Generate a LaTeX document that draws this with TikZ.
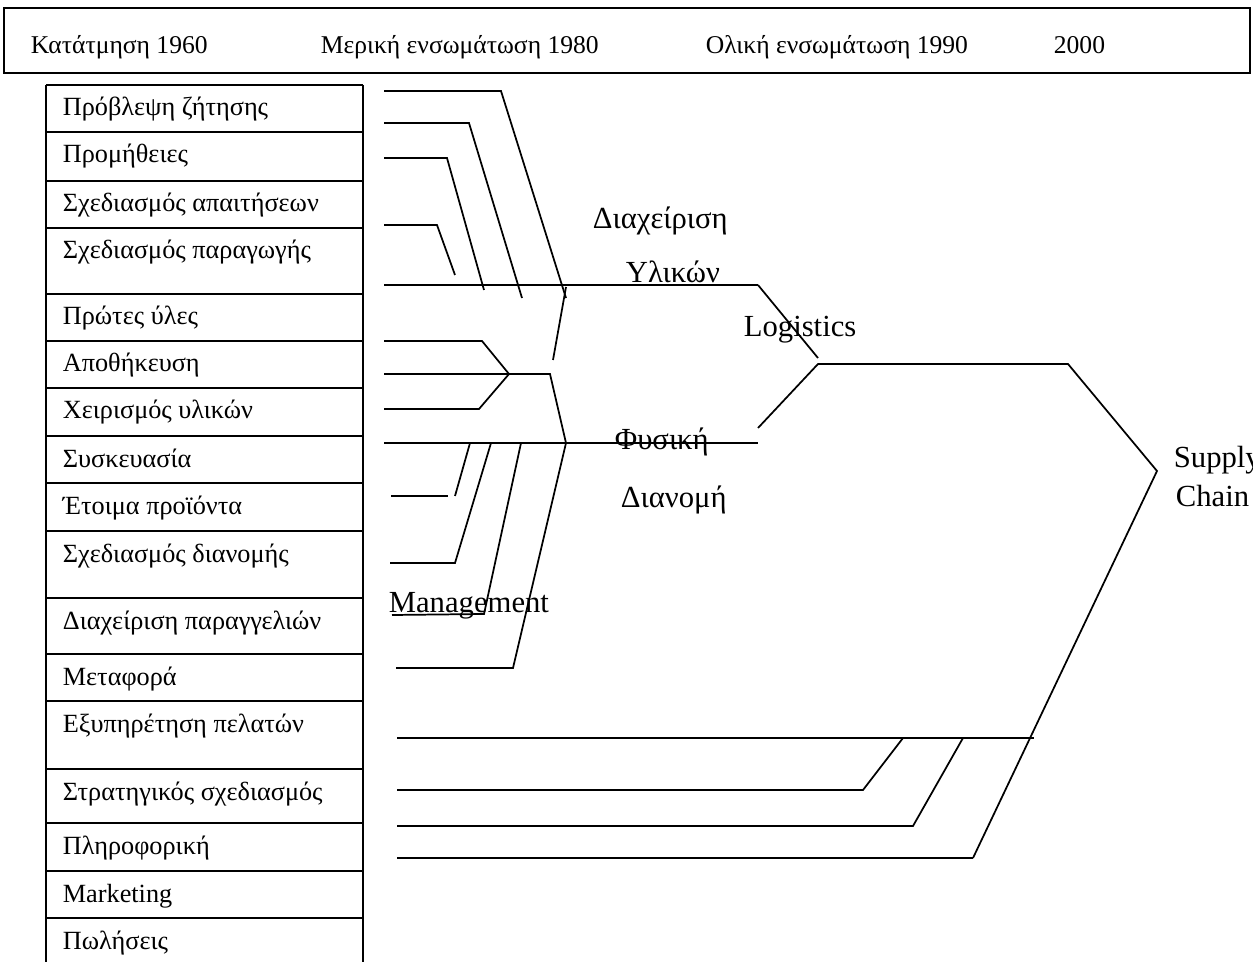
\documentclass[tikz,border=0pt]{standalone}
\usepackage{fontspec}
\setmainfont{Liberation Serif}
\begin{document}
\begin{tikzpicture}[x=0.75pt,y=-0.75pt,line width=1.3pt,
  cell/.style={font=\fontsize{19.7}{23}\selectfont,anchor=base west,inner sep=0pt},
  head/.style={font=\fontsize{19.2}{23}\selectfont,anchor=base west,inner sep=0pt},
  tag/.style={font=\fontsize{23}{27}\selectfont,anchor=base west,inner sep=0pt}]
\useasboundingbox (0,0) rectangle (1253,962);

% period header
\draw (4,8) rectangle (1250,73);
\node[head] (h1) at (30,54) {Κατάτμηση 1960};
\node[head] (h2) at (320,54) {Μερική ενσωμάτωση 1980};
\node[head] (h3) at (705,54) {Ολική ενσωμάτωση 1990};
\node[head] (h4) at (1053,54) {2000};

% table of activities
\draw (46,85) -- (46,962) (363,85) -- (363,962);
\foreach \t in {85,132,181,228,294,341,388,436,483,531,598,654,701,769,823,871,918}
  \draw (46,\t) -- (363,\t);
\foreach \t/\n/\s in {85/1/Πρόβλεψη ζήτησης,132/2/Προμήθειες,181/3/Σχεδιασμός απαιτήσεων,
  228/4/Σχεδιασμός παραγωγής,294/5/Πρώτες ύλες,341/6/Αποθήκευση,388/7/Χειρισμός υλικών,
  436/8/Συσκευασία,483/9/Έτοιμα προϊόντα,531/10/Σχεδιασμός διανομής,
  598/11/Διαχείριση παραγγελιών,654/12/Μεταφορά,701/13/Εξυπηρέτηση πελατών,
  769/14/Στρατηγικός σχεδιασμός,823/15/Πληροφορική,871/16/Marketing,918/17/Πωλήσεις}
  \node[cell] (r\n) at (62,\t+31) {\s};

% group labels
\node[tag] (dy1) at (592,229) {Διαχείριση};
\node[tag] (dy2) at (625,283) {Υλικών};
\node[tag] (lgs) at (743,337) {Logistics};
\node[tag] (fd1) at (614,450) {Φυσική};
\node[tag] (fd2) at (620,507) {Διανομή};
\node[tag] (mgt) at (388,612) {Management};
\node[tag] (sc1) at (1173,468) {Supply};
\node[tag] (sc2) at (1175,506) {Chain};

% materials management branches
\coordinate (m1s) at (384,91);  \coordinate (m1b) at (501,91);  \coordinate (m1e) at (566,298);
\coordinate (m2s) at (384,123); \coordinate (m2b) at (469,123); \coordinate (m2e) at (522,298);
\coordinate (m3s) at (384,158); \coordinate (m3b) at (447,158); \coordinate (m3e) at (484,290);
\coordinate (m4s) at (384,225); \coordinate (m4b) at (437,225); \coordinate (m4e) at (455,275);
\coordinate (ms) at (384,285);  \coordinate (mj) at (758,285);
\coordinate (mt1) at (566,287); \coordinate (mt2) at (553,360);
\draw (m1s) -- (m1b) -- (m1e);
\draw (m2s) -- (m2b) -- (m2e);
\draw (m3s) -- (m3b) -- (m3e);
\draw (m4s) -- (m4b) -- (m4e);
\draw (ms) -- (mj);
\draw (mt1) -- (mt2);

% physical distribution branches
\coordinate (d1s) at (384,341); \coordinate (d1b) at (482,341);
\coordinate (d2s) at (384,374); \coordinate (d2b) at (550,374);
\coordinate (d3s) at (384,409); \coordinate (d3b) at (479,409);
\coordinate (dj) at (509,374);  \coordinate (dk) at (566,443);
\coordinate (fs) at (384,443);  \coordinate (fe) at (758,443);
\draw (d1s) -- (d1b) -- (dj);
\draw (d3s) -- (d3b) -- (dj);
\draw (d2s) -- (d2b) -- (dk);
\draw (fs) -- (fe);
\coordinate (aa) at (391,496); \coordinate (ab) at (448,496);
\coordinate (ac) at (455,496); \coordinate (ad) at (470,443);
\coordinate (ba) at (390,563); \coordinate (bb) at (455,563); \coordinate (bc) at (491,443);
\coordinate (ca) at (392,615); \coordinate (cb) at (484,614); \coordinate (cc) at (521,443);
\coordinate (da) at (396,668); \coordinate (db) at (513,668);
\draw (aa) -- (ab);
\draw (ac) -- (ad);
\draw (ba) -- (bb) -- (bc);
\draw (ca) -- (cb) -- (cc);
\draw (da) -- (db) -- (dk);

% logistics and supply chain
\coordinate (la) at (818,358);
\coordinate (lb) at (758,428);
\coordinate (lc) at (818,364);
\coordinate (ld) at (1068,364);
\coordinate (sv) at (1157,471);
\coordinate (sw) at (973,858);
\draw (mj) -- (la);
\draw (lb) -- (lc) -- (ld) -- (sv) -- (sw);

% supply chain branches
\coordinate (s1a) at (397,738); \coordinate (s1b) at (1034,738);
\coordinate (s2a) at (397,790); \coordinate (s2b) at (863,790); \coordinate (s2c) at (903,738);
\coordinate (s3a) at (397,826); \coordinate (s3b) at (913,826); \coordinate (s3c) at (963,738);
\coordinate (s4a) at (397,858);
\draw (s1a) -- (s1b);
\draw (s2a) -- (s2b) -- (s2c);
\draw (s3a) -- (s3b) -- (s3c);
\draw (s4a) -- (sw);
\end{tikzpicture}
\end{document}
